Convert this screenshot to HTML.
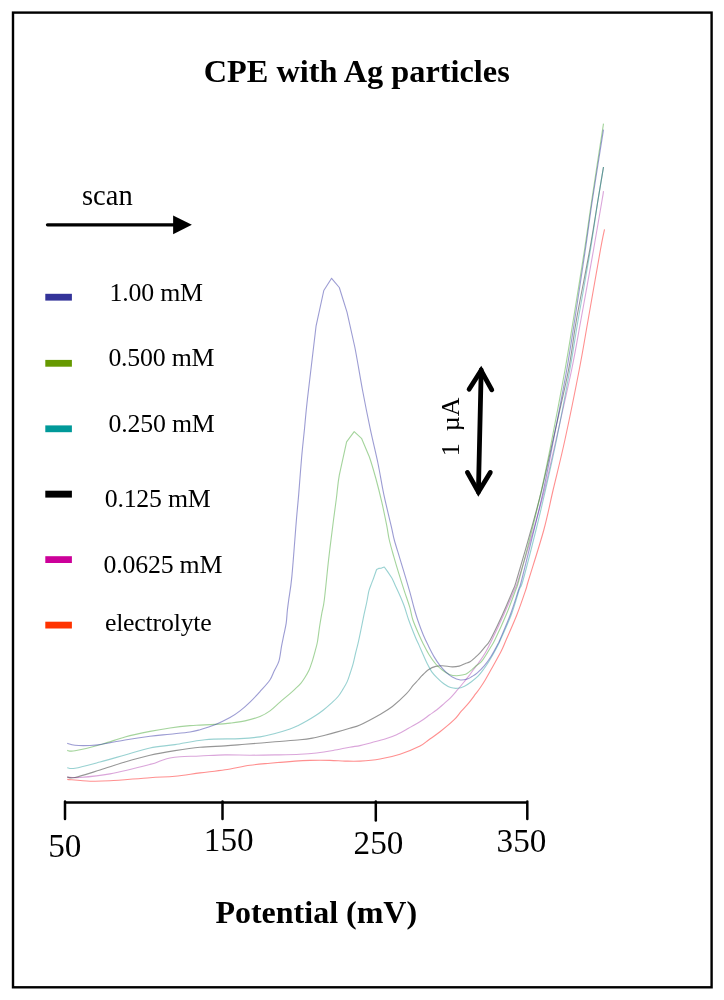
<!DOCTYPE html>
<html><head><meta charset="utf-8"><style>
html,body{margin:0;padding:0;background:#fff;}
svg{display:block;will-change:transform;}
text{font-family:"Liberation Serif", serif;fill:#000;}
</style></head><body>
<svg width="724" height="1000" viewBox="0 0 724 1000">
<rect x="0" y="0" width="724" height="1000" fill="#fff"/>
<rect x="13" y="12.6" width="698.6" height="974.7" fill="none" stroke="#000" stroke-width="2.4"/>
<text x="203.8" y="81.5" font-size="32.3" font-weight="bold">CPE with Ag particles</text>
<text x="82" y="204.7" font-size="28.5">scan</text>
<line x1="47.5" y1="224.8" x2="175" y2="224.8" stroke="#000" stroke-width="3.3" stroke-linecap="round"/>
<polygon points="173.1,215.4 191.9,224.8 173.1,234.3" fill="#000"/>
<g>
<rect x="45.3" y="293.8" width="26.6" height="6.8" fill="#333399"/>
<rect x="45.3" y="359.9" width="26.6" height="6.8" fill="#669900"/>
<rect x="45.3" y="425.4" width="26.6" height="6.8" fill="#009999"/>
<rect x="45.3" y="490.7" width="26.6" height="6.9" fill="#000"/>
<rect x="45.3" y="556.2" width="26.6" height="6.8" fill="#cc0099"/>
<rect x="45.3" y="621.7" width="26.6" height="6.8" fill="#ff3300"/>
</g>
<g font-size="25.8" letter-spacing="-0.2">
<text x="109.6" y="301">1.00 mM</text>
<text x="108.4" y="365.6">0.500 mM</text>
<text x="108.6" y="431.5">0.250 mM</text>
<text x="104.7" y="507.3">0.125 mM</text>
<text x="103.6" y="573">0.0625 mM</text>
<text x="104.9" y="630.5">electrolyte</text>
</g>
<path d="M67.20,779.40 C71.00,779.70 82.87,780.97 90.00,781.20 C97.13,781.43 100.00,781.38 110.00,780.80 C120.00,780.22 139.17,778.45 150.00,777.70 C160.83,776.95 166.67,777.10 175.00,776.30 C183.33,775.50 191.67,773.98 200.00,772.90 C208.33,771.82 216.67,771.07 225.00,769.80 C233.33,768.53 242.50,766.40 250.00,765.30 C257.50,764.20 262.50,763.90 270.00,763.20 C277.50,762.50 288.33,761.57 295.00,761.10 C301.67,760.63 304.17,760.52 310.00,760.40 C315.83,760.28 324.17,760.28 330.00,760.40 C335.83,760.52 340.00,760.98 345.00,761.10 C350.00,761.22 354.17,761.45 360.00,761.10 C365.83,760.75 373.33,760.15 380.00,759.00 C386.67,757.85 393.33,756.37 400.00,754.20 C406.67,752.03 415.18,748.42 420.00,746.00 C424.82,743.58 425.57,742.07 428.90,739.70 C432.23,737.33 435.78,735.13 440.00,731.80 C444.22,728.47 450.68,723.10 454.20,719.70 C457.72,716.30 458.70,714.17 461.10,711.40 C463.50,708.63 466.22,705.97 468.60,703.10 C470.98,700.23 473.50,696.72 475.40,694.20 C477.30,691.68 478.37,690.37 480.00,688.00 C481.63,685.63 483.02,683.68 485.20,680.00 C487.38,676.32 490.40,670.78 493.10,665.90 C495.80,661.02 499.23,655.02 501.40,650.70 C503.57,646.38 503.53,645.95 506.10,640.00 C508.67,634.05 513.53,623.33 516.80,615.00 C520.07,606.67 523.73,595.83 525.70,590.00 C527.67,584.17 525.58,590.00 528.60,580.00 C531.62,570.00 539.72,545.00 543.80,530.00 C547.88,515.00 549.58,505.00 553.10,490.00 C556.62,475.00 560.55,460.00 564.90,440.00 C569.25,420.00 575.33,390.00 579.20,370.00 C583.07,350.00 584.57,340.00 588.10,320.00 C591.63,300.00 597.67,265.10 600.40,250.00 C603.13,234.90 603.82,232.83 604.50,229.40" fill="none" stroke="#ff4a4a" stroke-opacity="0.62" stroke-width="1.1" stroke-linejoin="round"/>
<path d="M67.20,777.10 C69.33,777.17 72.87,778.03 80.00,777.50 C87.13,776.97 98.33,776.08 110.00,773.90 C121.67,771.72 141.67,766.55 150.00,764.40 C158.33,762.25 156.67,762.07 160.00,761.00 C163.33,759.93 166.67,758.72 170.00,758.00 C173.33,757.28 175.00,757.03 180.00,756.70 C185.00,756.37 192.50,756.30 200.00,756.00 C207.50,755.70 216.67,755.03 225.00,754.90 C233.33,754.77 241.67,755.20 250.00,755.20 C258.33,755.20 266.67,755.05 275.00,754.90 C283.33,754.75 293.07,754.62 300.00,754.30 C306.93,753.98 311.08,753.63 316.60,753.00 C322.12,752.37 327.58,751.47 333.10,750.50 C338.62,749.53 345.22,748.02 349.70,747.20 C354.18,746.38 356.28,746.38 360.00,745.60 C363.72,744.82 367.83,743.60 372.00,742.50 C376.17,741.40 380.90,740.30 385.00,739.00 C389.10,737.70 392.60,736.53 396.60,734.70 C400.60,732.87 404.87,730.32 409.00,728.00 C413.13,725.68 417.95,723.00 421.40,720.80 C424.85,718.60 427.12,716.65 429.70,714.80 C432.28,712.95 434.55,711.53 436.90,709.70 C439.25,707.87 441.50,705.82 443.80,703.80 C446.10,701.78 448.40,699.95 450.70,697.60 C453.00,695.25 455.30,692.40 457.60,689.70 C459.90,687.00 462.65,683.65 464.50,681.40 C466.35,679.15 467.25,678.10 468.70,676.20 C470.15,674.30 471.65,672.07 473.20,670.00 C474.75,667.93 476.05,666.55 478.00,663.80 C479.95,661.05 482.58,657.47 484.90,653.50 C487.22,649.53 488.78,646.42 491.90,640.00 C495.02,633.58 499.85,623.33 503.60,615.00 C507.35,606.67 511.95,595.83 514.40,590.00 C516.85,584.17 515.12,590.00 518.30,580.00 C521.48,570.00 529.13,545.00 533.50,530.00 C537.87,515.00 540.75,505.00 544.50,490.00 C548.25,475.00 551.48,460.00 556.00,440.00 C560.52,420.00 567.45,390.00 571.60,370.00 C575.75,350.00 577.25,340.00 580.90,320.00 C584.55,300.00 589.97,270.00 593.50,250.00 C597.03,230.00 600.43,209.80 602.10,200.00 C603.77,190.20 603.27,192.67 603.50,191.20" fill="none" stroke="#b040b0" stroke-opacity="0.47" stroke-width="1.1" stroke-linejoin="round"/>
<path d="M67.20,777.10 C68.50,777.17 69.53,778.68 75.00,777.50 C80.47,776.32 91.67,772.58 100.00,770.00 C108.33,767.42 116.67,764.47 125.00,762.00 C133.33,759.53 141.67,757.10 150.00,755.20 C158.33,753.30 166.67,751.93 175.00,750.60 C183.33,749.27 191.67,747.98 200.00,747.20 C208.33,746.42 217.50,746.38 225.00,745.90 C232.50,745.42 236.67,744.98 245.00,744.30 C253.33,743.62 265.83,742.55 275.00,741.80 C284.17,741.05 293.77,740.42 300.00,739.80 C306.23,739.18 308.25,738.87 312.40,738.10 C316.55,737.33 320.75,736.23 324.90,735.20 C329.05,734.17 333.17,733.07 337.30,731.90 C341.43,730.73 345.92,729.37 349.70,728.20 C353.48,727.03 354.95,727.20 360.00,724.90 C365.05,722.60 374.60,717.47 380.00,714.40 C385.40,711.33 387.98,709.95 392.40,706.50 C396.82,703.05 403.05,697.22 406.50,693.70 C409.95,690.18 411.17,687.68 413.10,685.40 C415.03,683.12 416.63,681.62 418.10,680.00 C419.57,678.38 420.12,677.45 421.90,675.70 C423.68,673.95 426.50,671.05 428.80,669.50 C431.10,667.95 433.40,667.03 435.70,666.40 C438.00,665.77 439.83,665.62 442.60,665.70 C445.37,665.78 449.53,666.83 452.30,666.90 C455.07,666.97 457.08,666.63 459.20,666.10 C461.32,665.57 463.20,664.42 465.00,663.70 C466.80,662.98 468.33,662.82 470.00,661.80 C471.67,660.78 473.33,659.10 475.00,657.60 C476.67,656.10 478.33,654.58 480.00,652.80 C481.67,651.02 483.30,649.03 485.00,646.90 C486.70,644.77 487.32,645.32 490.20,640.00 C493.08,634.68 498.50,623.33 502.30,615.00 C506.10,606.67 510.62,595.83 513.00,590.00 C515.38,584.17 513.60,590.00 516.60,580.00 C519.60,570.00 526.82,545.00 531.00,530.00 C535.18,515.00 538.03,505.00 541.70,490.00 C545.37,475.00 548.53,460.00 553.00,440.00 C557.47,420.00 564.60,390.00 568.50,370.00 C572.40,350.00 572.87,340.00 576.40,320.00 C579.93,300.00 586.10,270.00 589.70,250.00 C593.30,230.00 595.70,213.83 598.00,200.00 C600.30,186.17 602.58,172.50 603.50,167.00" fill="none" stroke="#404040" stroke-opacity="0.55" stroke-width="1.1" stroke-linejoin="round"/>
<path d="M67.20,767.70 C68.50,767.78 69.53,769.15 75.00,768.20 C80.47,767.25 91.67,764.20 100.00,762.00 C108.33,759.80 116.67,757.33 125.00,755.00 C133.33,752.67 141.67,749.73 150.00,748.00 C158.33,746.27 165.83,745.98 175.00,744.60 C184.17,743.22 194.17,740.70 205.00,739.70 C215.83,738.70 230.83,739.07 240.00,738.60 C249.17,738.13 254.17,737.75 260.00,736.90 C265.83,736.05 270.00,734.82 275.00,733.50 C280.00,732.18 286.12,730.33 290.00,729.00 C293.88,727.67 295.53,726.83 298.30,725.50 C301.07,724.17 303.83,722.58 306.60,721.00 C309.37,719.42 312.15,717.80 314.90,716.00 C317.65,714.20 320.35,712.35 323.10,710.20 C325.85,708.05 328.90,705.38 331.40,703.10 C333.90,700.82 336.17,698.83 338.10,696.50 C340.03,694.17 341.48,691.58 343.00,689.10 C344.52,686.62 346.00,684.28 347.20,681.60 C348.40,678.92 349.22,675.95 350.20,673.00 C351.18,670.05 352.20,667.22 353.10,663.90 C354.00,660.58 354.77,656.55 355.60,653.10 C356.43,649.65 357.22,647.05 358.10,643.20 C358.98,639.35 359.92,634.77 360.90,630.00 C361.88,625.23 363.02,619.27 364.00,614.60 C364.98,609.93 365.98,605.97 366.80,602.00 C367.62,598.03 368.08,593.95 368.90,590.80 C369.72,587.65 370.88,585.32 371.70,583.10 C372.52,580.88 372.98,579.77 373.80,577.50 L376.60,569.50 L378.70,568.40 L381.50,568.10 L384.30,567.00 L387.80,571.90 L392.00,578.20 C393.28,580.53 394.17,582.98 395.50,585.90 C396.83,588.82 398.53,592.30 400.00,595.70 C401.47,599.10 402.85,602.25 404.30,606.30 C405.75,610.35 406.87,614.88 408.70,620.00 C410.53,625.12 413.57,632.77 415.30,637.00 C417.03,641.23 417.77,642.40 419.10,645.40 C420.43,648.40 421.92,651.90 423.30,655.00 C424.68,658.10 426.02,661.23 427.40,664.00 C428.78,666.77 430.02,669.33 431.60,671.60 C433.18,673.87 434.87,675.57 436.90,677.60 C438.93,679.63 441.50,682.13 443.80,683.80 C446.10,685.47 448.40,686.85 450.70,687.60 C453.00,688.35 455.30,688.53 457.60,688.30 C459.90,688.07 462.20,687.30 464.50,686.20 C466.80,685.10 469.10,683.42 471.40,681.70 C473.70,679.98 476.23,678.02 478.30,675.90 C480.37,673.78 482.07,671.37 483.80,669.00 C485.53,666.63 487.17,664.12 488.70,661.70 C490.23,659.28 491.63,656.92 493.00,654.50 C494.37,652.08 495.67,649.62 496.90,647.20 C498.13,644.78 498.02,645.37 500.40,640.00 C502.78,634.63 508.07,623.33 511.20,615.00 C514.33,606.67 517.22,595.83 519.20,590.00 C521.18,584.17 520.30,590.00 523.10,580.00 C525.90,570.00 532.27,545.00 536.00,530.00 C539.73,515.00 542.08,505.00 545.50,490.00 C548.92,475.00 552.45,460.00 556.50,440.00 C560.55,420.00 566.20,390.00 569.80,370.00 C573.40,350.00 574.67,340.00 578.10,320.00 C581.53,300.00 587.08,270.00 590.40,250.00 C593.72,230.00 595.82,213.83 598.00,200.00 C600.18,186.17 602.58,172.50 603.50,167.00" fill="none" stroke="#1a9a9a" stroke-opacity="0.45" stroke-width="1.1" stroke-linejoin="round"/>
<path d="M67.20,750.40 C68.50,750.47 69.20,751.83 75.00,750.80 C80.80,749.77 93.67,746.50 102.00,744.20 C110.33,741.90 117.00,739.13 125.00,737.00 C133.00,734.87 142.50,732.90 150.00,731.40 C157.50,729.90 163.33,728.97 170.00,728.00 C176.67,727.03 185.00,726.08 190.00,725.60 C195.00,725.12 195.83,725.30 200.00,725.10 C204.17,724.90 210.00,724.73 215.00,724.40 C220.00,724.07 225.00,723.68 230.00,723.10 C235.00,722.52 240.00,722.00 245.00,720.90 C250.00,719.80 255.83,718.17 260.00,716.50 C264.17,714.83 266.67,713.30 270.00,710.90 C273.33,708.50 276.67,704.98 280.00,702.10 C283.33,699.22 287.50,695.77 290.00,693.60 C292.50,691.43 293.20,690.82 295.00,689.10 C296.80,687.38 299.15,685.23 300.80,683.30 C302.45,681.37 303.52,679.72 304.90,677.50 C306.28,675.28 307.92,672.58 309.10,670.00 C310.28,667.42 310.98,665.20 312.00,662.00 C313.02,658.80 314.30,654.13 315.20,650.80 C316.10,647.47 316.67,646.05 317.40,642.00 C318.13,637.95 318.87,631.28 319.60,626.50 C320.33,621.72 321.02,617.72 321.80,613.30 C322.58,608.88 323.15,609.10 324.30,600.00 C325.45,590.90 327.17,572.03 328.70,558.70 C330.23,545.37 332.22,530.07 333.50,520.00 C334.78,509.93 335.43,505.78 336.40,498.30 C337.37,490.82 337.60,484.52 339.30,475.10 L346.60,441.80 L354.20,431.60 L361.50,438.30 L369.30,456.70 C371.72,463.48 373.92,471.42 376.00,479.00 C378.08,486.58 380.02,494.47 381.80,502.20 C383.58,509.93 385.45,519.10 386.70,525.40 C387.95,531.70 388.12,534.80 389.30,540.00 C390.48,545.20 392.23,551.08 393.80,556.60 C395.37,562.12 396.95,567.40 398.70,573.10 C400.45,578.80 402.45,585.08 404.30,590.80 C406.15,596.52 408.37,602.53 409.80,607.40 C411.23,612.27 411.35,615.40 412.90,620.00 C414.45,624.60 417.37,631.00 419.10,635.00 C420.83,639.00 421.68,640.78 423.30,644.00 C424.92,647.22 426.73,650.97 428.80,654.30 C430.87,657.63 433.40,661.35 435.70,664.00 C438.00,666.65 440.30,668.47 442.60,670.20 C444.90,671.93 447.20,673.48 449.50,674.40 C451.80,675.32 454.10,675.65 456.40,675.70 C458.70,675.75 461.60,675.02 463.30,674.70 C465.00,674.38 465.12,674.70 466.60,673.80 C468.08,672.90 470.55,670.68 472.20,669.30 C473.85,667.92 474.97,666.77 476.50,665.50 C478.03,664.23 479.77,663.53 481.40,661.70 C483.03,659.87 484.77,656.92 486.30,654.50 C487.83,652.08 489.18,649.62 490.60,647.20 C492.02,644.78 492.22,645.37 494.80,640.00 C497.38,634.63 502.62,623.33 506.10,615.00 C509.58,606.67 513.55,595.83 515.70,590.00 C517.85,584.17 516.28,590.00 519.00,580.00 C521.72,570.00 528.25,545.00 532.00,530.00 C535.75,515.00 538.20,505.00 541.50,490.00 C544.80,475.00 547.88,460.00 551.80,440.00 C555.72,420.00 561.42,390.00 565.00,370.00 C568.58,350.00 570.05,340.00 573.30,320.00 C576.55,300.00 581.42,270.00 584.50,250.00 C587.58,230.00 588.63,221.07 591.80,200.00 C594.97,178.93 601.55,136.33 603.50,123.60" fill="none" stroke="#4aaa3a" stroke-opacity="0.5" stroke-width="1.1" stroke-linejoin="round"/>
<path d="M67.20,743.20 C68.50,743.55 71.20,744.92 75.00,745.30 C78.80,745.68 85.50,745.68 90.00,745.50 C94.50,745.32 96.17,745.12 102.00,744.20 C107.83,743.28 117.00,741.32 125.00,740.00 C133.00,738.68 142.50,737.27 150.00,736.30 C157.50,735.33 163.33,734.92 170.00,734.20 C176.67,733.48 185.00,732.75 190.00,732.00 C195.00,731.25 195.83,730.90 200.00,729.70 C204.17,728.50 210.00,726.82 215.00,724.80 C220.00,722.78 225.83,719.92 230.00,717.60 C234.17,715.28 236.67,713.48 240.00,710.90 C243.33,708.32 246.67,705.32 250.00,702.10 C253.33,698.88 256.68,695.28 260.00,691.60 C263.32,687.92 267.52,683.48 269.90,680.00 C272.28,676.52 272.78,673.90 274.30,670.70 C275.82,667.50 277.80,664.85 279.00,660.80 C280.20,656.75 280.72,650.63 281.50,646.40 C282.28,642.17 282.92,639.27 283.70,635.40 C284.48,631.53 285.60,627.27 286.20,623.20 C286.80,619.13 286.88,614.87 287.30,611.00 C287.72,607.13 287.93,605.82 288.70,600.00 C289.47,594.18 290.62,589.43 291.90,576.10 C293.18,562.77 295.27,533.62 296.40,520.00 C297.53,506.38 297.83,504.78 298.70,494.40 C299.57,484.02 300.63,468.65 301.60,457.70 C302.57,446.75 303.53,438.45 304.50,428.70 C305.47,418.95 305.47,416.35 307.40,399.20 L316.10,325.80 L323.80,290.50 L331.60,278.30 L339.30,287.50 L347.00,312.20 L354.80,347.00 C357.38,359.97 359.93,376.38 362.50,390.00 C365.07,403.62 367.62,416.45 370.20,428.70 C372.78,440.95 375.73,452.55 378.00,463.50 C380.27,474.45 381.55,483.77 383.80,494.40 C386.05,505.03 389.75,519.70 391.50,527.30 C393.25,534.90 393.00,535.12 394.30,540.00 C395.60,544.88 397.63,551.08 399.30,556.60 C400.97,562.12 402.55,567.22 404.30,573.10 C406.05,578.98 408.15,586.00 409.80,591.90 C411.45,597.80 412.88,603.82 414.20,608.50 C415.52,613.18 416.18,615.58 417.70,620.00 C419.22,624.42 421.45,630.55 423.30,635.00 C425.15,639.45 426.97,643.02 428.80,646.70 C430.63,650.38 432.45,653.98 434.30,657.10 C436.15,660.22 438.05,662.98 439.90,665.40 C441.75,667.82 443.33,669.65 445.40,671.60 C447.47,673.55 449.80,675.70 452.30,677.10 C454.80,678.50 457.90,679.68 460.40,680.00 C462.90,680.32 465.37,679.58 467.30,679.00 C469.23,678.42 470.33,677.53 472.00,676.50 C473.67,675.47 475.27,674.57 477.30,672.80 C479.33,671.03 481.90,668.67 484.20,665.90 C486.50,663.13 488.80,659.88 491.10,656.20 C493.40,652.52 496.55,646.50 498.00,643.80 C499.45,641.10 497.77,644.80 499.80,640.00 C501.83,635.20 507.08,623.33 510.20,615.00 C513.32,606.67 516.58,595.83 518.50,590.00 C520.42,584.17 519.12,590.00 521.70,580.00 C524.28,570.00 530.37,545.00 534.00,530.00 C537.63,515.00 540.25,505.00 543.50,490.00 C546.75,475.00 549.63,460.00 553.50,440.00 C557.37,420.00 563.17,390.00 566.70,370.00 C570.23,350.00 571.60,340.00 574.70,320.00 C577.80,300.00 582.35,270.00 585.30,250.00 C588.25,230.00 589.37,220.07 592.40,200.00 C595.43,179.93 601.65,141.33 603.50,129.60" fill="none" stroke="#3a3aa8" stroke-opacity="0.5" stroke-width="1.1" stroke-linejoin="round"/>
<line x1="65" y1="802.5" x2="527.3" y2="802.5" stroke="#000" stroke-width="2.5"/>
<g stroke="#000" stroke-width="2.5" stroke-linecap="round">
<line x1="65" y1="801.5" x2="65" y2="819"/>
<line x1="222.5" y1="801.5" x2="222.5" y2="819"/>
<line x1="375.8" y1="801.5" x2="375.8" y2="820.5"/>
<line x1="527.3" y1="801.5" x2="527.3" y2="819"/>
</g>
<g font-size="33.2">
<text x="48.2" y="857">50</text>
<text x="203.8" y="850.7">150</text>
<text x="353.6" y="853.7">250</text>
<text x="496.6" y="852.3">350</text>
</g>
<text x="215.4" y="923.2" font-size="32" font-weight="bold">Potential (mV)</text>
<g stroke="#000" stroke-width="4.8" fill="none" stroke-linecap="round">
<line x1="481.2" y1="370" x2="478.4" y2="492"/>
<polyline points="469.1,389.3 481.1,370.5 491.8,389.8" stroke-linejoin="miter" stroke-miterlimit="10"/>
<polyline points="467.4,472.4 478.4,492 490.3,472.4" stroke-linejoin="miter" stroke-miterlimit="10"/>
</g>
<text transform="translate(459.3,456.3) rotate(-90)" font-size="26">1</text>
<text transform="translate(459.3,431.2) rotate(-90)" font-size="26">µA</text>
</svg>
</body></html>
